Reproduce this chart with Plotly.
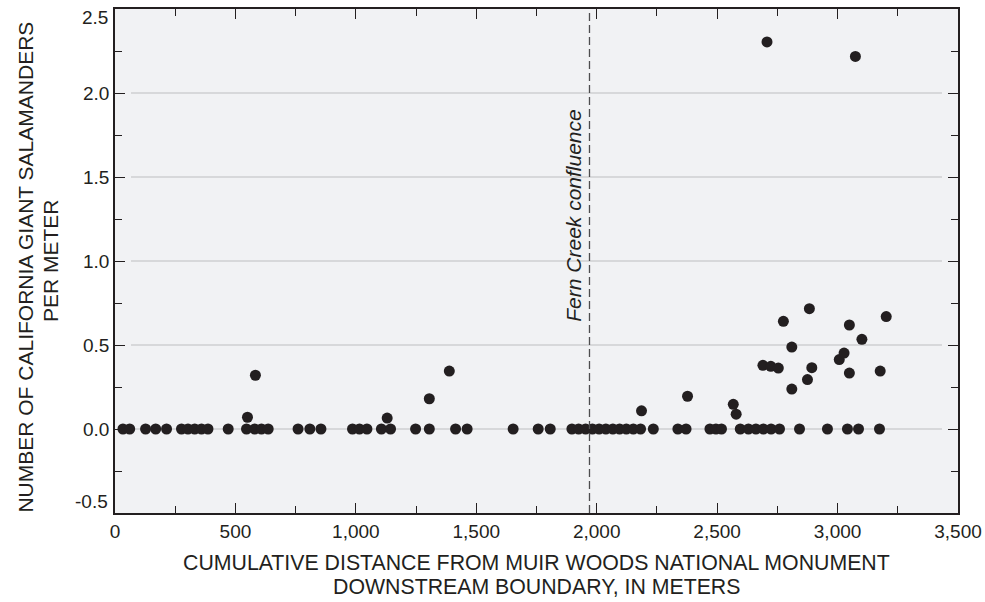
import plotly.graph_objects as go

# Distance (m) and salamanders per meter
zero_x = [33, 61, 127, 169, 214, 276, 303, 331, 359, 386, 470, 546, 580, 608, 636,
          760, 809, 855, 986, 1015, 1046, 1106, 1144, 1248, 1305, 1414, 1462, 1653,
          1757, 1807, 1897, 1925, 1954, 1982, 2010, 2038, 2067, 2095, 2123, 2152, 2182,
          2235, 2337, 2371, 2470, 2495, 2518, 2596, 2630, 2661, 2692, 2724, 2759, 2842,
          2958, 3041, 3087, 3174]
pos_x = [550, 583, 1130, 1305, 1388, 2186, 2377, 2567, 2579, 2690, 2723, 2754, 2775,
         2810, 2810, 2875, 2883, 2893, 3007, 3027, 3049, 3049, 3101, 3177, 3202, 2707, 3074]
pos_y = [0.07, 0.32, 0.065, 0.18, 0.345, 0.108, 0.195, 0.147, 0.088, 0.379, 0.373, 0.363,
         0.641, 0.488, 0.238, 0.294, 0.716, 0.365, 0.413, 0.452, 0.619, 0.333, 0.534,
         0.345, 0.669, 2.304, 2.218]

distance = zero_x + pos_x
density = [0.0] * len(zero_x) + pos_y

confluence_x = 1970
y_tickvals = [-0.5, 0.0, 0.5, 1.0, 1.5, 2.0, 2.5]
y_ticktext = ["", "0.0", "0.5", "1.0", "1.5", "2.0", ""]
y_end_labels = ["-0.5", "2.5"]
x_tickvals = [0, 500, 1000, 1500, 2000, 2500, 3000, 3500]
x_ticktext = ["0", "500", "1,000", "1,500", "2,000", "2,500", "3,000", "3,500"]
grid_y = [0.0, 0.5, 1.0, 1.5, 2.0]
x_title = ["CUMULATIVE DISTANCE FROM MUIR WOODS NATIONAL MONUMENT",
           "DOWNSTREAM BOUNDARY, IN METERS"]
y_title = ["NUMBER OF CALIFORNIA GIANT SALAMANDERS", "PER METER"]

ink = "#231f20"
font = "Liberation Sans, Arial, sans-serif"
title_size = 21
tick_size = 19

fig = go.Figure()
fig.add_trace(go.Scatter(
    x=distance, y=density, mode="markers",
    marker=dict(size=11, color=ink, line=dict(width=0)),
    showlegend=False, hoverinfo="x+y"))

shapes = []
for gy in grid_y:
    shapes.append(dict(type="line", xref="paper", yref="y", x0=0.019, x1=0.981,
                       y0=gy, y1=gy, line=dict(color="#bdbec0", width=1), layer="below"))
shapes.append(dict(type="line", xref="x", yref="y", x0=confluence_x, x1=confluence_x,
                   y0=-0.5, y1=2.5, line=dict(color="#4d4d4f", width=1.3, dash="8px,4px")))

annotations = [
    dict(x=1906, y=1.27, xref="x", yref="y", text="<i>Fern Creek confluence</i>",
         textangle=-90, showarrow=False, font=dict(size=title_size, color=ink)),
    dict(x=0.5, y=0, xref="paper", yref="paper", text=x_title[0], showarrow=False,
         xanchor="center", yanchor="middle", yshift=-50, font=dict(size=21.3, color=ink)),
    dict(x=0.5, y=0, xref="paper", yref="paper", text=x_title[1], showarrow=False,
         xanchor="center", yanchor="middle", yshift=-74, font=dict(size=21.3, color=ink)),
    dict(x=0, y=0.487, xref="paper", yref="paper", text=y_title[0], showarrow=False, textangle=-90,
         xanchor="center", yanchor="middle", xshift=-89, font=dict(size=title_size, color=ink)),
    dict(x=0, y=0.5, xref="paper", yref="paper", text=y_title[1], showarrow=False, textangle=-90,
         xanchor="center", yanchor="middle", xshift=-65, font=dict(size=title_size, color=ink)),
    dict(x=0, y=0, xref="paper", yref="paper", text=y_end_labels[0], showarrow=False,
         xanchor="right", yanchor="middle", xshift=-5, yshift=12, font=dict(size=tick_size, color=ink)),
    dict(x=0, y=1, xref="paper", yref="paper", text=y_end_labels[1], showarrow=False,
         xanchor="right", yanchor="middle", xshift=-5, yshift=-8, font=dict(size=tick_size, color=ink)),
]

fig.update_layout(
    width=985, height=602,
    margin=dict(l=115, r=27, t=9, b=89),
    paper_bgcolor="white", plot_bgcolor="#f1f2f4",
    font=dict(family=font, size=tick_size, color=ink),
    shapes=shapes,
    annotations=annotations,
    xaxis=dict(range=[0, 3500], tickvals=x_tickvals, ticktext=x_ticktext, automargin=False,
               showgrid=False, zeroline=False, showline=True, linecolor=ink, linewidth=1.5,
               mirror="ticks", ticks="inside", ticklen=10, tickcolor=ink, tickwidth=1,
               ticklabelstandoff=0,
               minor=dict(ticks="inside", ticklen=7, dtick=250, tick0=0, tickcolor=ink, showgrid=False)),
    yaxis=dict(range=[-0.5, 2.5], tickvals=y_tickvals, ticktext=y_ticktext, automargin=False,
               showgrid=False, zeroline=False, showline=True, linecolor=ink, linewidth=1.5,
               mirror="ticks", ticks="inside", ticklen=10, tickcolor=ink, tickwidth=1,
               ticklabelstandoff=0,
               minor=dict(ticks="inside", ticklen=7, dtick=0.25, tick0=0, tickcolor=ink, showgrid=False)),
)

fig.write_html("out.html", config={"displayModeBar": False},
               post_script="document.body.style.margin='0';document.body.style.overflow='hidden';")
